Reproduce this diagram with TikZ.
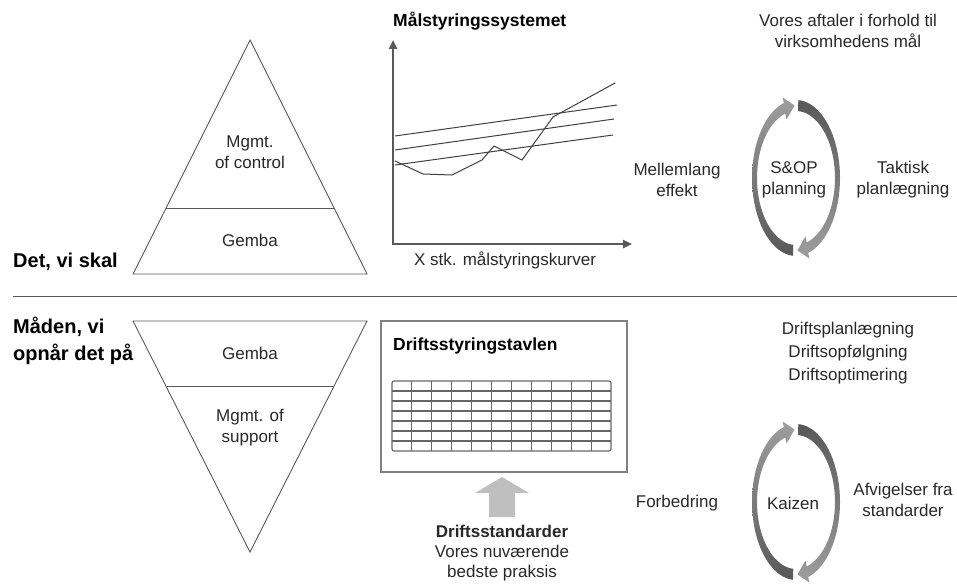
\documentclass[tikz,border=0pt]{standalone}
\usepackage{fontspec}
\setmainfont{Liberation Sans}
\usetikzlibrary{arrows.meta, positioning, calc}

\definecolor{axisgray}{RGB}{89, 89, 89}
\definecolor{linegray}{RGB}{64, 64, 64}
\definecolor{framegray}{RGB}{128, 128, 128}
\definecolor{cycledark}{RGB}{88, 88, 88}
\definecolor{cyclelight}{RGB}{158, 158, 158}
\definecolor{blockgray}{RGB}{191, 191, 191}
\definecolor{textgray}{RGB}{40, 40, 40}

\tikzset{
    plaintext/.style={font=\fontsize{17}{21}\selectfont, text=textgray, align=center, inner sep=0pt},
    sidetext/.style={plaintext, font=\fontsize{17}{23}\selectfont},
    headtext/.style={font=\fontsize{20}{27}\selectfont\bfseries, align=left, inner sep=0pt, anchor=west},
    titletext/.style={font=\fontsize{17.5}{21}\selectfont\bfseries, inner sep=0pt},
    pyramid/.style={draw=axisgray, line width=0.9pt, line join=miter},
    axisline/.style={draw=axisgray, line width=2.6pt, {Triangle[length=9pt, width=8pt]}-{Triangle[length=9pt, width=8pt]}},
    curve/.style={draw=linegray, line width=1pt},
    boardframe/.style={draw=framegray, line width=1.5pt},
    gridline/.style={draw=black!60, line width=1.1pt},
}

% two half rings with heads, centre given in pixels
\newcommand{\cyclearrows}[2]{%
    % left half, head at the top
    \shade[top color=cyclelight, bottom color=cycledark]
        plot[domain=94:254, samples=40] ({#1+44*cos(\x)}, {#2+78*sin(\x)})
        -- ({#1+49*cos(254)}, {#2+84*sin(254)})
        -- ({#1+41.5*cos(268)}, {#2+72.5*sin(268)})
        -- ({#1+34*cos(254)}, {#2+61*sin(254)})
        -- plot[domain=254:94, samples=40] ({#1+39*cos(\x)}, {#2+67*sin(\x)})
        -- cycle;
    % right half, head at the bottom
    \shade[top color=cycledark, bottom color=cyclelight]
        plot[domain=273:434, samples=40] ({#1+44*cos(\x)}, {#2+78*sin(\x)})
        -- ({#1+49*cos(434)}, {#2+84*sin(434)})
        -- ({#1+41.5*cos(448)}, {#2+72.5*sin(448)})
        -- ({#1+34*cos(434)}, {#2+61*sin(434)})
        -- plot[domain=434:273, samples=40] ({#1+39*cos(\x)}, {#2+67*sin(\x)})
        -- cycle;
}

\begin{document}
\begin{tikzpicture}[x=1pt, y=-1pt]
    \useasboundingbox (0, 0) rectangle (957, 583);

    % upper half: pyramid
    \draw[pyramid] (250, 40) -- (367, 274) -- (133, 274) -- cycle;
    \draw[pyramid] (166, 208) -- (334, 208);
    \node[plaintext] (control) at (250, 152) {Mgmt.\\of control};
    \node[plaintext] (gembatop) at (250, 240) {Gemba};
    \node[headtext] (skal) at (13, 262) {Det, vi skal};

    % chart
    \node[titletext, anchor=west] (chart) at (393, 21) {Målstyringssystemet};
    \draw[axisline] (393, 40) -- (393, 244) -- (632, 244);
    \draw[curve] (395, 136) -- (617, 105);
    \draw[curve] (395, 150) -- (614, 119);
    \draw[curve] (395, 165) -- (613, 135);
    \draw[curve] (395, 161) -- (423, 174) -- (452, 175) -- (482, 160) -- (494, 146)
        -- (522, 160) -- (553, 117) -- (615, 83);
    \node[plaintext] (curves) at (505, 260) {X stk. målstyringskurver};

    % S&OP cycle
    \node[plaintext] (aftaler) at (848, 31) {\fontsize{17}{23}\selectfont Vores aftaler i forhold til\\virksomhedens mål};
    \cyclearrows{796}{178}
    \node[plaintext] (sop) at (794, 180) {S\&OP\\planning};
    \node[plaintext] (mellem) at (677, 180) {Mellemlang\\effekt};
    \node[plaintext] (taktisk) at (903, 180) {Taktisk\\planlægning};

    % separator
    \draw[draw=axisgray, line width=0.9pt] (13, 296) -- (957, 296);

    % lower half: inverted pyramid
    \draw[pyramid] (133, 321) -- (367, 321) -- (250, 552) -- cycle;
    \draw[pyramid] (167, 386) -- (334, 386);
    \node[plaintext] (gembalow) at (250, 353) {Gemba};
    \node[plaintext] (support) at (250, 428) {Mgmt. of\\support};
    \node[headtext] (maaden) at (13, 341) {Måden, vi\\opnår det på};

    % board
    \draw[boardframe] (381, 321) rectangle (627, 472);
    \node[titletext, anchor=west] (board) at (393, 346) {Driftsstyringstavlen};
    \draw[gridline, rounded corners=2pt] (392, 381) rectangle (611, 451);
    \foreach \i in {1,...,10}
        \draw[gridline] ({392+\i*219/11}, 381) -- ({392+\i*219/11}, 451);
    \foreach \j in {1,...,6}
        \draw[gridline] (392, {381+\j*10}) -- (611, {381+\j*10});

    % block arrow and standards
    \fill[blockgray] (502, 477) -- (529, 493) -- (515, 493) -- (515, 517)
        -- (489, 517) -- (489, 493) -- (475, 493) -- cycle;
    \node[plaintext, font=\fontsize{17}{20}\selectfont] (standards) at (502, 553)
        {\textbf{Driftsstandarder}\\Vores nuværende\\bedste praksis};

    % Kaizen cycle
    \node[sidetext] (drift) at (848, 353) {Driftsplanlægning\\Driftsopfølgning\\Driftsoptimering};
    \cyclearrows{796}{502}
    \node[plaintext] (kaizen) at (793, 503) {Kaizen};
    \node[plaintext] (forbedring) at (677, 503) {Forbedring};
    \node[plaintext] (afvig) at (903, 500) {Afvigelser fra\\standarder};
\end{tikzpicture}
\end{document}
